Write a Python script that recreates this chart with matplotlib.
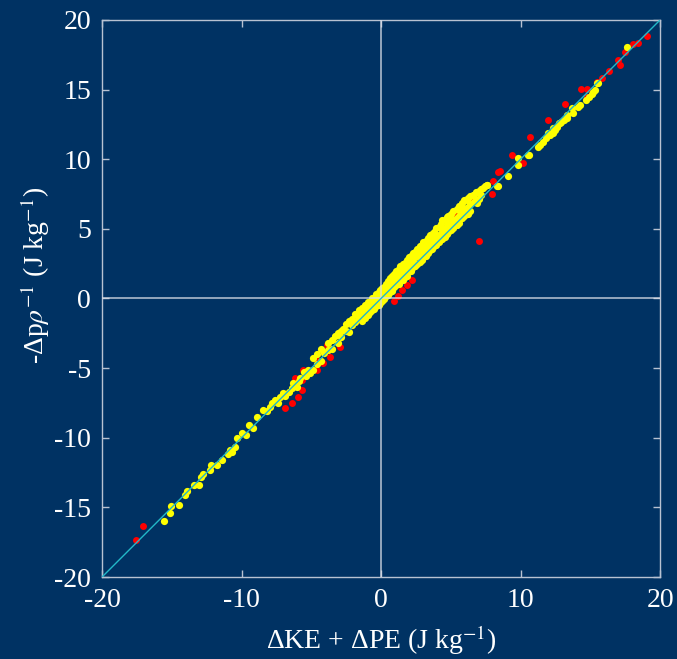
import matplotlib
matplotlib.use("Agg")
import matplotlib.pyplot as plt

# energy budget: pressure work vs kinetic + potential energy change (J/kg)
BG = "#003263"

# points flagged in red
x_red = [-17.56, -17.06,
         -6.88, -6.40, -5.93, -5.68, -5.68, -6.16, -5.57, -4.61, -4.14, -4.73,
         -3.66, -3.89, -2.94, -1.62, -1.86,
         0.95, 1.24, 1.53, 1.89, 2.20,
         5.30, 5.43, 6.60, 7.05, 7.93, 8.05, 8.41, 8.53,
         9.37, 10.20, 10.68, 11.95, 12.42, 13.19, 14.34, 14.74, 14.74, 15.46,
         15.82, 16.34, 17.01, 17.13, 17.49, 18.09, 18.45, 19.04]
y_red = [-17.34, -16.34,
         -7.89, -7.53, -7.06, -6.58, -5.86, -5.74, -5.14, -5.14, -4.66, -4.30,
         -4.19, -3.35, -3.51, -1.31, -1.41,
         -0.16, 0.17, 0.58, 0.96, 1.32,
         5.99, 6.00, 7.20, 4.12, 7.49, 8.45, 9.11, 9.12,
         10.29, 9.74, 11.57, 12.81, 12.09, 13.98, 15.05, 15.01, 14.44, 15.56,
         15.80, 16.37, 17.11, 16.80, 17.71, 18.28, 18.38, 18.84]

# yellow points, lower tail
x_yel_low = [-15.56, -15.13, -15.06, -14.50, -14.03, -13.90, -13.40, -13.08, -12.90,
             -12.78, -12.26, -12.22, -11.76, -11.42, -10.97, -10.80, -10.70, -10.47,
             -10.30, -9.99, -9.68, -9.44, -9.15, -8.91,
             -8.44, -8.20, -7.96, -7.80, -7.60, -7.36, -7.24, -7.00, -6.88, -6.60,
             -6.41, -6.30, -6.04, -5.90, -5.81, -5.50, -5.40, -5.21, -5.09]
y_yel_low = [-15.96, -15.43, -14.90, -14.83, -14.11, -13.80, -13.40, -13.38, -12.82,
             -12.63, -12.32, -11.96, -11.95, -11.63, -11.20, -10.90, -11.00, -10.65,
             -10.04, -9.64, -9.80, -9.09, -9.33, -8.54,
             -8.01, -8.10, -7.77, -7.50, -7.29, -7.53, -7.06, -6.80, -7.01, -6.70,
             -6.45, -6.10, -6.34, -5.90, -5.74, -5.30, -5.60, -5.14, -5.38]

# yellow points, dense band around the origin
x_yel_mid = [-4.90, -4.90, -4.60, -4.60, -4.30, -4.30, -4.10, -3.80, -3.80,
             -3.50, -3.50, -3.30, -3.10, -3.10, -2.90, -2.90, -2.70, -2.50, -2.50,
             -2.30, -2.30, -2.10, -2.10, -1.90, -1.90, -1.70, -1.55, -1.55,
             -1.35, -1.35, -1.35, -1.15, -1.15, -1.15, -0.95, -0.95, -0.95,
             -0.80, -0.80, -0.62, -0.62, -0.62, -0.48, -0.48,
             -0.33, -0.33, -0.33, -0.18, -0.18, -0.18, -0.05, -0.05, -0.05,
             0.08, 0.08, 0.08, 0.22, 0.22, 0.22, 0.37, 0.37, 0.37,
             0.48, 0.48, 0.48, 0.63, 0.63, 0.63, 0.78, 0.78, 0.78,
             0.92, 0.92, 0.92, 1.08, 1.08, 1.08, 1.27, 1.27, 1.27,
             1.38, 1.38, 1.38, 1.56, 1.56, 1.56, 1.72, 1.72, 1.72,
             1.88, 1.88, 1.88, 2.02, 2.02, 2.02, 2.17, 2.17, 2.17,
             2.32, 2.32, 2.32, 2.44, 2.44, 2.44, 2.58, 2.58, 2.58,
             2.77, 2.77, 2.77, 2.92, 2.92, 2.92, 3.03, 3.03, 3.03,
             3.22, 3.22, 3.22, 3.37, 3.37, 3.37, 3.48, 3.48, 3.48,
             3.66, 3.66, 3.66, 3.82, 3.82, 3.82, 3.93, 3.93, 3.93,
             4.12, 4.12, 4.12, 4.27, 4.27, 4.27, 4.38, 4.38, 4.38,
             4.57, 4.57, 4.57, 4.72, 4.72, 4.72, 4.83, 4.83, 4.83,
             5.02, 5.02, 5.02, 5.18, 5.18, 5.18, 5.42, 5.42, 5.42,
             5.58, 5.58, 5.58, 5.83, 5.83, 5.83, 5.97, 5.97, 5.97,
             6.22, 6.22, 6.22, 6.38, 6.38, 6.38, 6.63, 6.63, 6.78, 6.78,
             7.03, 7.03, 7.18, 7.18, 7.42, 7.62]
y_yel_mid = [-4.30, -5.10, -4.00, -4.70, -3.60, -4.50, -3.90, -3.20, -3.70,
             -3.00, -3.60, -2.70, -2.50, -3.20, -2.30, -2.80, -2.20, -1.80, -2.30,
             -1.60, -2.40, -1.50, -1.90, -1.10, -1.70, -1.20, -0.80, -1.40,
             -0.70, -1.10, -1.60, -0.50, -0.90, -1.40, -0.25, -0.80, -1.20,
             -0.45, -0.95, 0.05, -0.35, -0.85, -0.05, -0.75,
             0.35, -0.15, -0.55, 0.45, 0.05, -0.45, 0.60, 0.15, -0.35,
             0.75, 0.25, -0.15, 0.85, 0.45, -0.05, 1.05, 0.55, 0.15,
             1.25, 0.75, 0.25, 1.45, 0.85, 0.45, 1.65, 1.15, 0.55,
             1.75, 1.30, 0.85, 1.95, 1.45, 0.95, 2.15, 1.55, 1.05,
             2.35, 1.85, 1.25, 2.45, 1.95, 1.35, 2.55, 2.05, 1.55,
             2.75, 2.25, 1.65, 2.95, 2.35, 1.95, 3.05, 2.55, 1.95,
             3.25, 2.65, 2.25, 3.35, 2.95, 2.35, 3.55, 3.05, 2.45,
             3.75, 3.15, 2.65, 3.85, 3.35, 2.75, 4.05, 3.45, 3.05,
             4.15, 3.65, 3.05, 4.35, 3.75, 3.25, 4.55, 3.95, 3.45,
             4.65, 4.05, 3.55, 4.75, 4.25, 3.75, 5.05, 4.45, 3.85,
             5.15, 4.55, 4.05, 5.35, 4.65, 4.25, 5.65, 4.95, 4.25,
             5.65, 5.05, 4.45, 5.85, 5.15, 4.65, 5.95, 5.35, 4.75,
             6.05, 5.45, 4.95, 6.25, 5.65, 5.05, 6.45, 5.75, 5.25,
             6.65, 5.95, 5.45, 6.85, 6.25, 5.75, 7.05, 6.35, 5.95,
             7.25, 6.55, 6.05, 7.35, 6.75, 6.25, 7.45, 6.95, 7.65, 7.05,
             7.75, 7.15, 7.85, 7.45, 8.05, 8.15]

# yellow points, upper tail
x_yel_high = [4.70, 5.66, 5.90, 6.62, 6.86, 6.14, 6.98, 7.33, 7.58,
              8.29, 8.41, 9.13, 9.84, 9.84, 10.56, 10.61, 11.28, 11.40, 11.63, 11.80,
              12.00, 12.11, 12.30, 12.35, 12.47, 12.60, 12.78, 12.83, 12.90, 13.10,
              13.31, 13.31, 13.67, 13.79, 14.14, 14.27, 14.70, 14.90, 15.10, 15.22,
              15.34, 15.46, 15.58, 17.61]
y_yel_high = [5.63, 6.27, 6.47, 7.42, 6.83, 7.06, 7.66, 7.97, 8.14,
              8.07, 8.07, 8.79, 9.58, 10.06, 10.29, 10.29, 10.89, 11.00, 11.25, 11.50,
              11.90, 11.73, 11.90, 12.21, 12.09, 12.30, 12.57, 12.57, 12.70, 12.80,
              13.17, 12.93, 13.65, 13.29, 13.76, 13.88, 14.24, 14.50, 14.67, 14.84,
              14.96, 15.44, 15.48, 18.03]

x_yel = x_yel_low + x_yel_mid + x_yel_high
y_yel = y_yel_low + y_yel_mid + y_yel_high

ticks_x = [-20, -10, 0, 10, 20]
ticks_y = [-20, -15, -10, -5, 0, 5, 10, 15, 20]

plt.rcParams["font.family"] = ["Liberation Serif", "DejaVu Serif"]
plt.rcParams["mathtext.fontset"] = "stix"
plt.rcParams["axes.unicode_minus"] = False

fig = plt.figure(figsize=(6.77, 6.59), dpi=100, facecolor=BG)
ax = fig.add_axes([0.1507, 0.1244, 0.8243, 0.8453])
ax.set_facecolor(BG)

ax.plot(x_red, y_red, "o", color="#ff0000", markersize=5, markeredgewidth=0)
ax.plot(x_yel, y_yel, "o", color="#ffff00", markersize=5.2, markeredgewidth=0)

# zero axes and 1:1 line
ax.axhline(0, color="#d8dde6", lw=1.2, alpha=0.8, zorder=3)
ax.axvline(0, color="#d8dde6", lw=1.2, alpha=0.8, zorder=3)
ax.plot([-20, 20], [-20, 20], color="#22b8c8", lw=1.0, zorder=4)

ax.set_xlim(-20, 20)
ax.set_ylim(-20, 20)
ax.set_xticks(ticks_x)
ax.set_yticks(ticks_y)

for s in ax.spines.values():
    s.set_color("#b8c2d2")
    s.set_linewidth(1.0)
ax.tick_params(direction="in", length=5, width=1.0, colors="#b8c2d2",
               top=True, right=True, labelsize=20, labelcolor="white", pad=8)

ax.set_xlabel("ΔKE + ΔPE (J kg$^{-1}$)", color="white", fontsize=20)
ax.set_ylabel("-Δp$\\rho^{-1}$ (J kg$^{-1}$)", color="white", fontsize=20)
ax.xaxis.set_label_coords(0.5, -0.083)
ax.yaxis.set_label_coords(-0.09, 0.542)

fig.savefig("out.png", dpi=100, facecolor=BG)
